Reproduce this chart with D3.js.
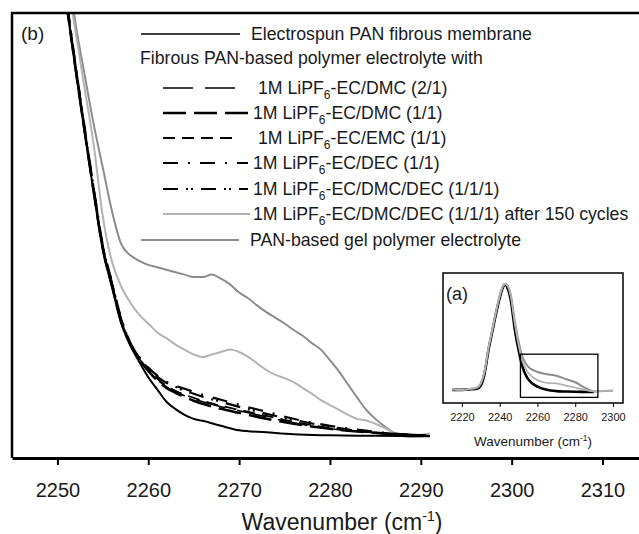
<!DOCTYPE html>
<html>
<head>
<meta charset="utf-8">
<script src="https://cdnjs.cloudflare.com/ajax/libs/d3/7.8.5/d3.min.js"></script>
<style>
  body { margin: 0; background: #fff; }
  svg text { font-family: "Liberation Sans", Arial, sans-serif; fill: #1a1a1a; }
</style>
</head>
<body>
<div id="chart"></div>
<script>
// ! Data (main panel b)
var wn_black = [2250, 2251, 2252, 2253, 2254, 2255, 2256, 2257, 2258, 2259, 2260, 2261, 2262, 2263, 2264, 2265, 2266, 2268, 2270, 2273, 2276, 2280, 2285, 2291];
var electrospun = [0.610, 0.530, 0.450, 0.373, 0.299, 0.229, 0.184, 0.140, 0.113, 0.092, 0.073, 0.058, 0.043, 0.034, 0.027, 0.022, 0.0196, 0.0135, 0.008, 0.0055, 0.003, 0.0018, 0.0012, 0.0006];
var dmc_2_1 = [0.614, 0.534, 0.454, 0.377, 0.303, 0.233, 0.188, 0.144, 0.115, 0.096, 0.082, 0.070, 0.0613, 0.0552, 0.0503, 0.0466, 0.0429, 0.0368, 0.0319, 0.0245, 0.0172, 0.0098, 0.0049, 0.0012];
var dmc_1_1 = [0.612, 0.532, 0.452, 0.375, 0.301, 0.231, 0.186, 0.142, 0.114, 0.095, 0.081, 0.069, 0.0601, 0.054, 0.0491, 0.0442, 0.0405, 0.0344, 0.0294, 0.0221, 0.016, 0.0098, 0.0049, 0.0012];
var emc_1_1 = [0.613, 0.533, 0.453, 0.376, 0.302, 0.232, 0.187, 0.143, 0.115, 0.096, 0.082, 0.071, 0.0626, 0.0564, 0.0515, 0.0479, 0.0442, 0.038, 0.0331, 0.0258, 0.0184, 0.011, 0.0049, 0.0012];
var dec_1_1 = [0.616, 0.536, 0.456, 0.379, 0.305, 0.235, 0.190, 0.146, 0.116, 0.098, 0.085, 0.075, 0.0675, 0.0626, 0.0589, 0.0552, 0.0515, 0.0454, 0.0393, 0.0307, 0.0221, 0.0135, 0.0061, 0.0012];
var dmc_dec = [0.615, 0.535, 0.455, 0.378, 0.304, 0.234, 0.189, 0.145, 0.116, 0.097, 0.084, 0.0735, 0.0663, 0.0613, 0.0564, 0.0528, 0.0491, 0.0429, 0.0368, 0.0282, 0.0209, 0.0123, 0.0049, 0.0012];

var wn_gray = [2250, 2251, 2252, 2253, 2254, 2255, 2256, 2257, 2258, 2259, 2260, 2261, 2262, 2263, 2264, 2265, 2266, 2267, 2268, 2269, 2270, 2271, 2272, 2273, 2274, 2275, 2276, 2277, 2278, 2279, 2280, 2281, 2282, 2283, 2284, 2285, 2286, 2287, 2288, 2289, 2290, 2291];
var after_150 = [0.640, 0.567, 0.497, 0.427, 0.358, 0.270, 0.215, 0.185, 0.165, 0.150, 0.139, 0.128, 0.121, 0.113, 0.107, 0.101, 0.098, 0.101, 0.104, 0.107, 0.104, 0.098, 0.090, 0.082, 0.076, 0.072, 0.067, 0.060, 0.053, 0.045, 0.039, 0.033, 0.027, 0.022, 0.020, 0.016, 0.011, 0.005, 0.0025, 0.002, 0.0025, 0.004];
var gel_pan = [0.660, 0.590, 0.507, 0.444, 0.383, 0.330, 0.277, 0.237, 0.223, 0.216, 0.211, 0.208, 0.205, 0.202, 0.199, 0.196, 0.196, 0.199, 0.194, 0.187, 0.177, 0.170, 0.161, 0.153, 0.146, 0.139, 0.131, 0.124, 0.115, 0.107, 0.094, 0.080, 0.064, 0.048, 0.033, 0.022, 0.013, 0.005, 0.001, 0.0, 0.0006, 0.0018];

var x_ticks = [2250, 2260, 2270, 2280, 2290, 2300, 2310];

// ! Data (inset a)
var wn_inset = [2215, 2220, 2225, 2228, 2230, 2232, 2234, 2236, 2238, 2240, 2242, 2243, 2244, 2246, 2248, 2250, 2252, 2254, 2256, 2258, 2260, 2265, 2270, 2275, 2280, 2285, 2290, 2295, 2300];
var inset_black = [0.02, 0.02, 0.025, 0.03, 0.06, 0.17, 0.38, 0.55, 0.72, 0.87, 0.98, 1.0, 0.97, 0.84, 0.58, 0.39, 0.24, 0.15, 0.10, 0.07, 0.05, 0.02, 0.008, 0.004, 0.002, 0.001, 0.0, null, null];
var inset_after_150 = [0.025, 0.02, 0.03, 0.04, 0.08, 0.19, 0.40, 0.57, 0.74, 0.89, 0.99, 1.0, 0.99, 0.88, 0.64, 0.44, 0.29, 0.21, 0.16, 0.13, 0.11, 0.085, 0.08, 0.06, 0.04, 0.02, 0.005, 0.01, 0.012];
var inset_gel = [0.025, 0.02, 0.03, 0.04, 0.08, 0.19, 0.40, 0.57, 0.74, 0.89, 0.99, 1.0, 0.99, 0.89, 0.66, 0.47, 0.33, 0.26, 0.22, 0.20, 0.185, 0.165, 0.15, 0.12, 0.09, 0.04, 0.004, 0.01, 0.012];
var inset_ticks = [2220, 2240, 2260, 2280, 2300];

// ! Legend text
var legend_top = "Electrospun PAN fibrous membrane";
var legend_group = "Fibrous PAN-based polymer electrolyte with";
var legend_suffix = ["-EC/DMC (2/1)", "-EC/DMC (1/1)", "-EC/EMC (1/1)", "-EC/DEC (1/1)", "-EC/DMC/DEC (1/1/1)", "-EC/DMC/DEC (1/1/1) after 150 cycles"];
var legend_bottom = "PAN-based gel polymer electrolyte";

// ! Styles
var light_gray = "#b3b3b3", dark_gray = "#8c8c8c";
var font_legend = "17.7px";
var black_series = [
  { values: dmc_2_1, dash: "30,12", width: 1.6 },
  { values: dmc_1_1, dash: "23,8", width: 2.6 },
  { values: emc_1_1, dash: "12,7", width: 1.8 },
  { values: dec_1_1, dash: "15,10,2,10", width: 2.2 },
  { values: dmc_dec, dash: "15,8,2,3,2,8", width: 2.2 }
];

var svg = d3.select("#chart")
  .append("svg")
  .attr("width", 639)
  .attr("height", 534);

var x = d3.scaleLinear().domain([2245, 2316]).range([12, 657]);
var y = d3.scaleLinear().domain([-0.026, 0.52]).range([458, 13]);

svg.append("clipPath").attr("id", "clip_main")
  .append("rect").attr("x", 12).attr("y", 13).attr("width", 640).attr("height", 445);

var plot = svg.append("g").attr("clip-path", "url(#clip_main)");

var line_black = d3.line()
  .x(function(d, i) { return x(wn_black[i]); })
  .y(function(d) { return y(d); })
  .curve(d3.curveMonotoneX);

var line_gray = d3.line()
  .x(function(d, i) { return x(wn_gray[i]); })
  .y(function(d) { return y(d); })
  .curve(d3.curveMonotoneX);

plot.append("path").datum(gel_pan)
  .attr("d", line_gray).attr("fill", "none")
  .attr("stroke", dark_gray).attr("stroke-width", 2);

plot.append("path").datum(after_150)
  .attr("d", line_gray).attr("fill", "none")
  .attr("stroke", light_gray).attr("stroke-width", 2);

plot.append("path").datum(electrospun)
  .attr("d", line_black).attr("fill", "none")
  .attr("stroke", "#000").attr("stroke-width", 2);

black_series.forEach(function(s) {
  plot.append("path").datum(s.values)
    .attr("d", line_black).attr("fill", "none")
    .attr("stroke", "#000").attr("stroke-width", s.width)
    .attr("stroke-dasharray", s.dash);
});

// frame (top and left edges, right side runs off the page)
svg.append("path")
  .attr("d", "M12,458V13H660")
  .attr("fill", "none").attr("stroke", "#000").attr("stroke-width", 2.5);

var xAxis = svg.append("g")
  .attr("transform", "translate(0,458)")
  .call(d3.axisBottom(x).tickValues(x_ticks).tickFormat(d3.format("d"))
    .tickSize(7).tickSizeOuter(0).tickPadding(18));
xAxis.select(".domain").attr("stroke-width", 2.8);
xAxis.selectAll(".tick line").attr("stroke-width", 2);
xAxis.selectAll("text").style("font-size", "20px")
  .style("font-family", "'Liberation Sans', Arial, sans-serif").attr("fill", "#1a1a1a");

var title = svg.append("text")
  .attr("x", 342).attr("y", 530)
  .attr("text-anchor", "middle")
  .style("font-size", "23px");
title.append("tspan").text("Wavenumber (cm");
title.append("tspan").attr("dy", -9).style("font-size", "14px").text("-1");
title.append("tspan").attr("dy", 9).text(")");

svg.append("text").attr("x", 21).attr("y", 40).style("font-size", "19px").text("(b)");

// ! Legend
var lg_row = [34, 58, 88, 113, 138, 163, 189, 214, 240];

svg.append("line").attr("x1", 141).attr("x2", 240).attr("y1", lg_row[0]).attr("y2", lg_row[0])
  .attr("stroke", "#000").attr("stroke-width", 1.6);
svg.append("text").attr("x", 251).attr("y", lg_row[0] + 6).style("font-size", font_legend).text(legend_top);

svg.append("text").attr("x", 140).attr("y", lg_row[1] + 6).style("font-size", font_legend).text(legend_group);

var legend_styles = black_series.map(function(s) {
  return { color: "#000", dash: s.dash, width: s.width, x2: 248 };
});
legend_styles[0].x2 = 237;
legend_styles[2].x2 = 232;
legend_styles.push({ color: light_gray, dash: null, width: 1.8, x2: 250 });

legend_suffix.forEach(function(suffix, i) {
  var row = lg_row[i + 2];
  var st = legend_styles[i];
  svg.append("line")
    .attr("x1", 163).attr("x2", st.x2).attr("y1", row).attr("y2", row)
    .attr("stroke", st.color).attr("stroke-width", st.width)
    .attr("stroke-dasharray", st.dash);
  var t = svg.append("text")
    .attr("x", i === 0 || i === 2 ? 258 : 253).attr("y", row + 6)
    .style("font-size", font_legend);
  t.append("tspan").text("1M LiPF");
  t.append("tspan").attr("dy", 5).style("font-size", "12px").text("6");
  t.append("tspan").attr("dy", -5).text(suffix);
});

svg.append("line").attr("x1", 141).attr("x2", 239).attr("y1", lg_row[8]).attr("y2", lg_row[8])
  .attr("stroke", dark_gray).attr("stroke-width", 1.8);
svg.append("text").attr("x", 250).attr("y", lg_row[8] + 6).style("font-size", font_legend).text(legend_bottom);

// ! Inset (a)
var xi = d3.scaleLinear().domain([2210, 2305.3]).range([443, 623]);
var yi = d3.scaleLinear().domain([-0.102, 1.102]).range([403, 273]);

svg.append("rect").attr("x", 443).attr("y", 273).attr("width", 180).attr("height", 130)
  .attr("fill", "#fff").attr("stroke", "#000").attr("stroke-width", 1.5);

var line_inset = d3.line()
  .defined(function(d) { return d !== null; })
  .x(function(d, i) { return xi(wn_inset[i]); })
  .y(function(d) { return yi(d); })
  .curve(d3.curveMonotoneX);

svg.append("path").datum(inset_black).attr("d", line_inset)
  .attr("fill", "none").attr("stroke", "#000").attr("stroke-width", 2.6);
svg.append("path").datum(inset_gel).attr("d", line_inset)
  .attr("fill", "none").attr("stroke", dark_gray).attr("stroke-width", 2);
svg.append("path").datum(inset_after_150).attr("d", line_inset)
  .attr("fill", "none").attr("stroke", light_gray).attr("stroke-width", 1.8);

svg.append("rect")
  .attr("x", xi(2251)).attr("y", yi(0.35))
  .attr("width", xi(2292) - xi(2251)).attr("height", yi(-0.05) - yi(0.35))
  .attr("fill", "none").attr("stroke", "#000").attr("stroke-width", 1.3);

var xAxisInset = svg.append("g")
  .attr("transform", "translate(0,403)")
  .call(d3.axisBottom(xi).tickValues(inset_ticks).tickFormat(d3.format("d"))
    .tickSize(4).tickSizeOuter(0).tickPadding(6));
xAxisInset.select(".domain").remove();
xAxisInset.selectAll("text").style("font-size", "11px")
  .style("font-family", "'Liberation Sans', Arial, sans-serif").attr("fill", "#1a1a1a");

var title_inset = svg.append("text")
  .attr("x", 533).attr("y", 446)
  .attr("text-anchor", "middle")
  .style("font-size", "13.5px");
title_inset.append("tspan").text("Wavenumber (cm");
title_inset.append("tspan").attr("dy", -5).style("font-size", "8.5px").text("-1");
title_inset.append("tspan").attr("dy", 5).text(")");

svg.append("text").attr("x", 446).attr("y", 300).style("font-size", "18px").text("(a)");
</script>
</body>
</html>
